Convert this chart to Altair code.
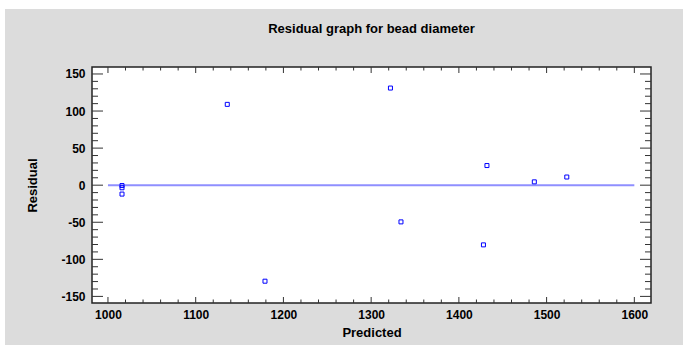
import altair as alt
import pandas as pd

# ---- data ----
predicted = [1016, 1016, 1016, 1136, 1179, 1322, 1334, 1428, 1432, 1486, 1523]
residual = [-0.5, -3.5, -12, 109, -129.5, 131, -49.5, -80.5, 26.5, 4.5, 11]

x_major = [1000, 1100, 1200, 1300, 1400, 1500, 1600]
x_minor = [v for v in range(1000, 1601, 20) if v % 100 != 0]
y_major = [-150, -100, -50, 0, 50, 100, 150]
y_minor = [v for v in range(-150, 151, 10) if v % 50 != 0]

zero_start = [1000]
zero_end = [1600]
zero_level = [0]

title_text = "Residual graph for bead diameter"
x_title = "Predicted"
y_title = "Residual"

# ---- layout / style ----
W, H = 559, 236
PAD = {"left": 92, "top": 67, "right": 32, "bottom": 42}
FONT = "Liberation Sans"
TICK = "#333333"
GRAY = "#dcdcdc"

xs = alt.Scale(domain=[981.8, 1619], nice=False, zero=False)
ys = alt.Scale(domain=[-158.9, 159.4], nice=False, zero=False)

df = pd.DataFrame({"Predicted": predicted, "Residual": residual})
zdf = pd.DataFrame({"x1": zero_start, "x2": zero_end, "y": zero_level})
xmaj = pd.DataFrame({"v": x_major})
xmin = pd.DataFrame({"v": x_minor})
ymaj = pd.DataFrame({"v": y_major})
ymin = pd.DataFrame({"v": y_minor})
one = pd.DataFrame({"k": [0]})

xaxis = alt.Axis(
    title=x_title, values=x_major, labelExpr="datum.value + ''", ticks=False, tickSize=0,
    domain=False, grid=False, labelPadding=6, labelFlush=False,
    labelFont=FONT, labelFontSize=12, labelFontWeight="bold", labelColor="black",
    titleFont=FONT, titleFontSize=13, titleFontWeight="bold", titleColor="black",
    titleY=33, titleBaseline="alphabetic",
)
yaxis = alt.Axis(
    title=y_title, values=y_major, labelExpr="datum.value + ''", ticks=False, tickSize=0,
    domain=False, grid=False, labelPadding=7, labelFlush=False,
    labelFont=FONT, labelFontSize=12, labelFontWeight="bold", labelColor="black",
    titleFont=FONT, titleFontSize=13, titleFontWeight="bold", titleColor="black",
    titleX=-55.5, titleBaseline="alphabetic",
)

def X(field):
    return alt.X(field, scale=xs, axis=xaxis)

def Y(field):
    return alt.Y(field, scale=ys, axis=yaxis)

# white strips at the top and left edges of the picture
strip_top = alt.Chart(one).mark_rect(color="white", strokeWidth=0).encode(
    x=alt.value(-PAD["left"]), x2=alt.value(W + PAD["right"]),
    y=alt.value(-PAD["top"]), y2=alt.value(-PAD["top"] + 9),
)
strip_left = alt.Chart(one).mark_rect(color="white", strokeWidth=0).encode(
    x=alt.value(-PAD["left"]), x2=alt.value(-PAD["left"] + 5),
    y=alt.value(-PAD["top"]), y2=alt.value(H + PAD["bottom"]),
)

zero_line = alt.Chart(zdf).mark_rule(color="#8f8fff", strokeWidth=2).encode(
    x=X("x1:Q"), x2="x2:Q", y=Y("y:Q"),
)

def xticks(data, length, top):
    y0, y1 = (0, length) if top else (H, H - length)
    return alt.Chart(data).mark_rule(color=TICK, strokeWidth=1).encode(
        x=X("v:Q"), y=alt.value(y0), y2=alt.value(y1)
    )

def yticks(data, length, right):
    x0, x1 = (W, W - length) if right else (0, length)
    return alt.Chart(data).mark_rule(color=TICK, strokeWidth=1).encode(
        y=Y("v:Q"), x=alt.value(x0), x2=alt.value(x1)
    )

ticks = [
    xticks(xmaj, 6, False), xticks(xmin, 3.5, False),
    xticks(xmaj, 6, True), xticks(xmin, 3.5, True),
    yticks(ymaj, 11, False), yticks(ymin, 6, False),
    yticks(ymaj, 11, True), yticks(ymin, 6, True),
]

points = alt.Chart(df).mark_point(
    shape="square", filled=False, size=16, strokeWidth=1, color="#0000ff", opacity=1
).encode(
    x=X("Predicted:Q"),
    y=Y("Residual:Q"),
)

chart = alt.layer(strip_top, strip_left, zero_line, *ticks, points).properties(
    width=W, height=H,
    autosize=alt.AutoSizeParams(type="none"),
    padding=PAD,
    background=GRAY,
    title=alt.Title(
        title_text, font=FONT, fontSize=13, fontWeight="bold", color="black",
        anchor="middle", baseline="alphabetic", offset=-45.7,
    ),
).configure_view(stroke="#222222", strokeWidth=1.5, fill="white")

chart.save("out.html", embed_options={"renderer": "svg", "actions": False})
